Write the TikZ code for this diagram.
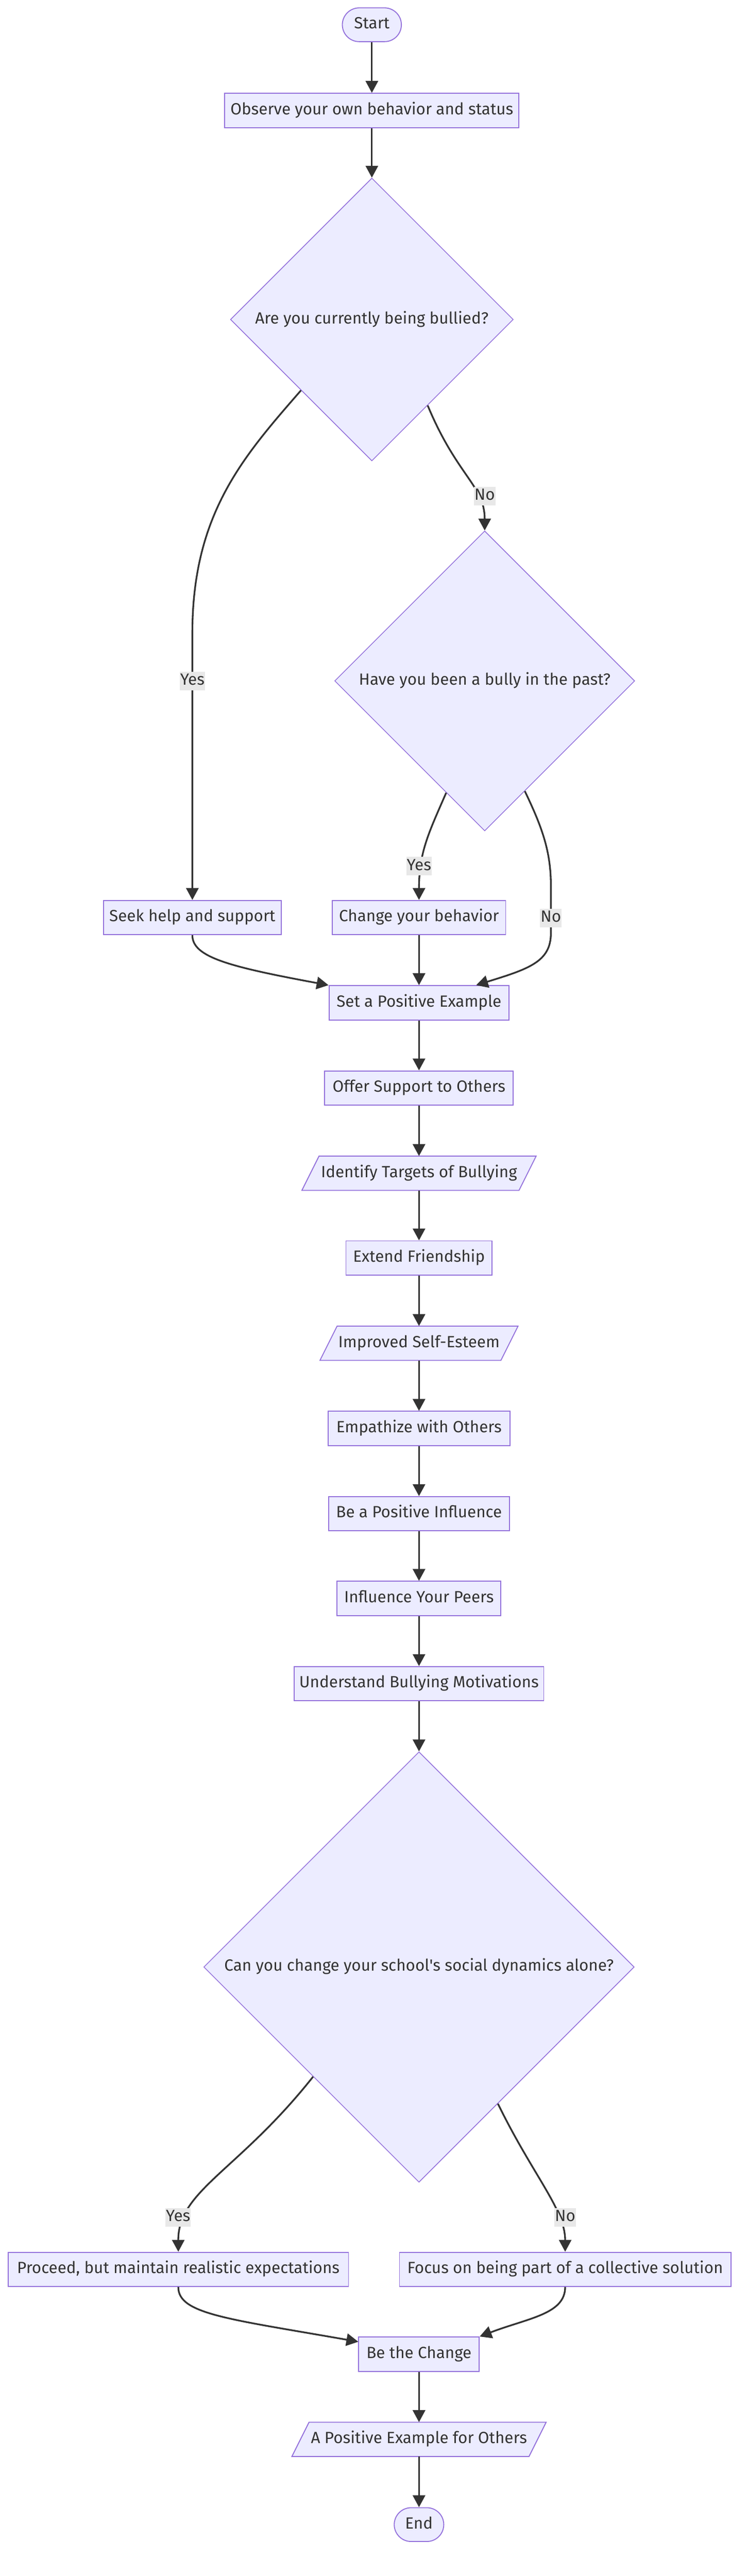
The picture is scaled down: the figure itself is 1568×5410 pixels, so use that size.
\documentclass[tikz,border=0pt]{standalone}
\usepackage{fontspec}
\setmainfont{Fira Sans}
\usetikzlibrary{arrows.meta,shapes.geometric,calc}
\definecolor{nodefill}{HTML}{ECECFF}
\definecolor{nodeline}{HTML}{9370DB}
\definecolor{ink}{HTML}{333333}
\definecolor{labelbg}{HTML}{E8E8E8}
\begin{document}
\begin{tikzpicture}[x=1pt,y=-1pt,
  every node/.style={font=\fontsize{34pt}{40pt}\selectfont, text=ink, text height=25pt, text depth=8pt},
  box/.style={draw=nodeline, fill=nodefill, line width=2pt, inner sep=0pt, minimum height=72pt},
  dia/.style={shape=diamond, aspect=1, draw=nodeline, fill=nodefill, line width=1.6pt, inner sep=0pt},
  pshape/.style={draw=nodeline, fill=nodefill, line width=2pt, line join=miter},
  ptext/.style={inner sep=0pt, minimum height=72pt},
  conn/.style={draw=ink, line width=3.6pt, -{Triangle[length=25pt,width=26pt]}},
  lab/.style={fill=labelbg, inner xsep=1pt, inner ysep=3pt}]
\fill[white] (0,0) rectangle (1568,5410);
\useasboundingbox (0,0) rectangle (1568,5410);

% nodes
\node[box, rounded corners=35.5pt, minimum width=124pt, minimum height=71pt] (start) at (781,52) {Start};
\node[box, minimum width=618pt] (observe) at (781,232) {Observe your own behavior and status};
\node[dia, minimum size=594pt] (d1) at (781,671) {Are you currently being bullied?};
\node[dia, minimum size=630pt] (d2) at (1018,1430) {Have you been a bully in the past?};
\node[box, minimum width=373pt] (seek) at (404,1927) {Seek help and support};
\node[box, minimum width=364pt] (change) at (880,1927) {Change your behavior};
\node[box, minimum width=378pt] (setpos) at (880,2106) {Set a Positive Example};
\node[box, minimum width=396pt] (offer) at (880,2285) {Offer Support to Others};
\path[pshape] (670,2428) -- (1126,2428) -- (1090,2500) -- (634,2500) -- cycle;
\node[ptext, minimum width=456pt] (identify) at (880,2464) {Identify Targets of Bullying};
\node[box, minimum width=307pt] (extend) at (880,2642) {Extend Friendship};
\path[pshape] (708,2785) -- (1088,2785) -- (1052,2857) -- (672,2857) -- cycle;
\node[ptext, minimum width=380pt] (improved) at (880,2821) {Improved Self-Esteem};
\node[box, minimum width=382pt] (empathize) at (880,3000) {Empathize with Others};
\node[box, minimum width=380pt] (beinf) at (880,3179) {Be a Positive Influence};
\node[box, minimum width=344pt] (peers) at (880,3357) {Influence Your Peers};
\node[box, minimum width=524pt] (understand) at (880,3536) {Understand Bullying Motivations};
\node[dia, minimum size=904pt] (d3) at (880,4131) {Can you change your school\textquotesingle s social dynamics alone?};
\node[box, minimum width=715pt] (proceed) at (374.5,4766) {Proceed, but maintain realistic expectations};
\node[box, minimum width=696pt] (focus) at (1187,4766) {Focus on being part of a collective solution};
\node[box, minimum width=253pt] (bechange) at (880,4944) {Be the Change};
\path[pshape] (649,5087) -- (1147,5087) -- (1111,5159) -- (613,5159) -- cycle;
\node[ptext, minimum width=498pt] (example) at (880,5123) {A Positive Example for Others};
\node[box, rounded corners=35.5pt, minimum width=104pt, minimum height=71pt] (end) at (880,5302) {End};

% connectors
\draw[conn] (start) -- (observe);
\draw[conn] (observe) -- (d1);
\draw[conn] (d1.south west) .. controls (510,960) and (404,1080) .. (404,1330) -- (seek.north);
\draw[conn] (d1.-57) .. controls (960,1000) and (1018,1020) .. (d2.north);
\draw[conn] (d2.-109) .. controls (900,1750) and (880,1790) .. (change.north);
\draw[conn] (d2.-70) .. controls (1140,1740) and (1157,1790) .. (1157,1860) -- (1157,1960) .. controls (1157,2020) and (1110,2035) .. ($(setpos.north east)+(-70,0)$);
\draw[conn] (seek.south) .. controls (404,2010) and (480,2030) .. (setpos.north west);
\draw[conn] (change) -- (setpos);
\draw[conn] (setpos) -- (offer);
\draw[conn] (offer) -- (identify);
\draw[conn] (identify) -- (extend);
\draw[conn] (extend) -- (improved);
\draw[conn] (improved) -- (empathize);
\draw[conn] (empathize) -- (beinf);
\draw[conn] (beinf) -- (peers);
\draw[conn] (peers) -- (understand);
\draw[conn] (understand) -- (d3);
\draw[conn] (d3.-134) .. controls (500,4560) and (374,4600) .. (proceed.north);
\draw[conn] (d3.-60) .. controls (1120,4570) and (1187,4640) .. (focus.north);
\draw[conn] (proceed.south) .. controls (374,4860) and (480,4870) .. ($(bechange.north west)+(0,11)$);
\draw[conn] (focus.south) .. controls (1187,4860) and (1110,4868) .. (bechange.north east);
\draw[conn] (bechange) -- (example);
\draw[conn] (example) -- (end);

% edge labels
\node[lab] (lno1) at (1018,1042) {No};
\node[lab] (lyes1) at (404,1430) {Yes};
\node[lab] (lyes2) at (880,1819) {Yes};
\node[lab] (lno2) at (1157,1928) {No};
\node[lab] (lyes3) at (374,4657) {Yes};
\node[lab] (lno3) at (1187,4657) {No};
\end{tikzpicture}
\end{document}
